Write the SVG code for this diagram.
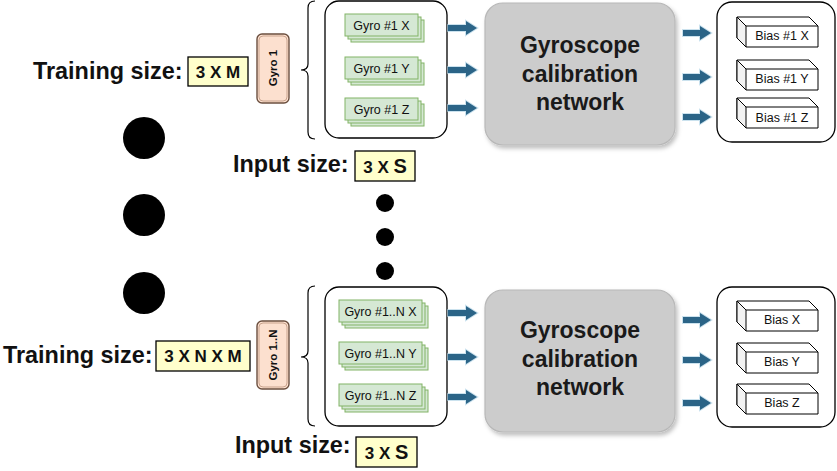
<svg xmlns="http://www.w3.org/2000/svg" width="837" height="471" viewBox="0 0 837 471">
<style>
text{font-family:"Liberation Sans",Arial,sans-serif;fill:#111}
.big{font-size:23.4px;font-weight:bold}
.dim{font-size:17px;font-weight:bold;text-anchor:middle}
.yel{fill:#FFFFCC;stroke:#000;stroke-width:1.3}
.gyro{fill:#FCE0CF;stroke:#6B4F3F;stroke-width:1.4}
.gyroin{fill:none;stroke:#C9A38D;stroke-width:1}
.gtxt{font-size:11.5px;font-weight:bold;text-anchor:middle}
.cont{fill:#fff;stroke:#000;stroke-width:1.3}
.brace{fill:none;stroke:#000;stroke-width:1.2}
.stk{fill:#D5E8D4;stroke:#82B366;stroke-width:1}
.stxt{font-size:12.5px;text-anchor:middle}
.net{fill:#CCCCCC;stroke:#B8B8B8;stroke-width:1.2}
.ntxt{font-size:23px;font-weight:bold;text-anchor:middle;fill:#1a1a1a}
.cube{fill:#fff;stroke:#000;stroke-width:1}
.side{fill:#F2F2F2;stroke:#000;stroke-width:1}
.btxt{font-size:12.5px;text-anchor:middle}
.arr{fill:#2B6487;stroke:#A8CFE3;stroke-width:2;stroke-opacity:0.6;paint-order:stroke}
.dot{fill:#000}
</style>
<defs>
<filter id="sh" x="-10%" y="-10%" width="125%" height="125%">
<feDropShadow dx="2" dy="3" stdDeviation="2" flood-color="#000" flood-opacity="0.25"/>
</filter>
</defs>

<g id="bigdots">
<circle class="dot" cx="144" cy="138" r="21"/>
<circle class="dot" cx="144" cy="215" r="21"/>
<circle class="dot" cx="144" cy="293" r="21"/>
</g>
<g id="smalldots">
<circle class="dot" cx="385" cy="203" r="9"/>
<circle class="dot" cx="385" cy="237" r="9"/>
<circle class="dot" cx="385" cy="271" r="9"/>
</g>

<g id="train1">
<text class="big" x="33" y="79">Training size:</text>
<rect class="yel" x="188" y="57" width="60" height="29"/>
<text class="dim" x="218" y="78">3 X M</text>
</g>
<g id="gyro1">
<rect class="gyro" x="257" y="34" width="32" height="69" rx="5"/>
<rect class="gyroin" x="259" y="36" width="28" height="65" rx="4"/>
<text class="gtxt" transform="translate(277,68) rotate(-90)" x="0" y="0">Gyro 1</text>
</g>
<g id="brace1">
<path class="brace" d="M315,1 Q308,1 308,8 V64 Q308,70 301,70 Q308,70 308,76 V132 Q308,139 315,139"/>
</g>
<g id="inputs1">
<rect class="cont" x="325" y="1" width="122" height="137" rx="14"/>
<g id="g1x">
<rect class="stk" x="351" y="20" width="73" height="22"/>
<rect class="stk" x="348" y="17" width="73" height="22"/>
<rect class="stk" x="345" y="14" width="73" height="22"/>
<text class="stxt" x="381.5" y="29.5">Gyro #1 X</text>
</g>
<g id="g1y">
<rect class="stk" x="351" y="63" width="73" height="22"/>
<rect class="stk" x="348" y="60" width="73" height="22"/>
<rect class="stk" x="345" y="57" width="73" height="22"/>
<text class="stxt" x="381.5" y="72.5">Gyro #1 Y</text>
</g>
<g id="g1z">
<rect class="stk" x="351" y="104" width="73" height="22"/>
<rect class="stk" x="348" y="101" width="73" height="22"/>
<rect class="stk" x="345" y="98" width="73" height="22"/>
<text class="stxt" x="381.5" y="113.5">Gyro #1 Z</text>
</g>
</g>
<g id="input1">
<text class="big" x="233" y="172">Input size:</text>
<rect class="yel" x="355" y="151" width="60" height="30"/>
<text class="dim" x="385" y="173">3 X <tspan font-size="20">S</tspan></text>
</g>
<g id="net1">
<rect class="net" filter="url(#sh)" x="485" y="3" width="190" height="142" rx="18"/>
<text class="ntxt" x="580" y="53">Gyroscope</text>
<text class="ntxt" x="580" y="82">calibration</text>
<text class="ntxt" x="580" y="110">network</text>
</g>
<g id="out1">
<rect class="cont" x="717" y="2" width="118" height="140" rx="15"/>
<g id="b1x">
<path class="cube" d="M737,17 H809 L818,26 V47 H746 L737,38 Z"/>
<path class="side" d="M737,17 L746,26 V47 L737,38 Z"/>
<path class="cube" d="M746,26 H818"/>
<text class="btxt" x="782" y="40">Bias #1 X</text>
</g>
<g id="b1y">
<path class="cube" d="M737,60 H809 L818,69 V90 H746 L737,81 Z"/>
<path class="side" d="M737,60 L746,69 V90 L737,81 Z"/>
<path class="cube" d="M746,69 H818"/>
<text class="btxt" x="782" y="83">Bias #1 Y</text>
</g>
<g id="b1z">
<path class="cube" d="M737,98 H809 L818,107 V128 H746 L737,119 Z"/>
<path class="side" d="M737,98 L746,107 V128 L737,119 Z"/>
<path class="cube" d="M746,107 H818"/>
<text class="btxt" x="782" y="122">Bias #1 Z</text>
</g>
</g>

<g id="trainN">
<text class="big" x="3" y="363">Training size:</text>
<rect class="yel" x="156" y="341" width="94" height="30"/>
<text class="dim" x="203" y="362">3 X N X M</text>
</g>
<g id="gyroN">
<rect class="gyro" x="257" y="321" width="32" height="68" rx="5"/>
<rect class="gyroin" x="259" y="323" width="28" height="64" rx="4"/>
<text class="gtxt" transform="translate(277,355) rotate(-90)" x="0" y="0">Gyro 1..N</text>
</g>
<g id="braceN">
<path class="brace" d="M315,286 Q308,286 308,293 V351 Q308,357 301,357 Q308,357 308,363 V419 Q308,426 315,426"/>
</g>
<g id="inputsN">
<rect class="cont" x="325" y="287" width="122" height="139" rx="14"/>
<g id="gNx">
<rect class="stk" x="345" y="306" width="83" height="22"/>
<rect class="stk" x="342" y="303" width="83" height="22"/>
<rect class="stk" x="339" y="300" width="83" height="22"/>
<text class="stxt" x="380.5" y="315.5">Gyro #1..N X</text>
</g>
<g id="gNy">
<rect class="stk" x="345" y="348" width="83" height="22"/>
<rect class="stk" x="342" y="345" width="83" height="22"/>
<rect class="stk" x="339" y="342" width="83" height="22"/>
<text class="stxt" x="380.5" y="357.5">Gyro #1..N Y</text>
</g>
<g id="gNz">
<rect class="stk" x="345" y="390" width="83" height="22"/>
<rect class="stk" x="342" y="387" width="83" height="22"/>
<rect class="stk" x="339" y="384" width="83" height="22"/>
<text class="stxt" x="380.5" y="399.5">Gyro #1..N Z</text>
</g>
</g>
<g id="inputN">
<text class="big" x="235" y="453">Input size:</text>
<rect class="yel" x="356" y="437" width="61" height="30"/>
<text class="dim" x="386.5" y="459">3 X <tspan font-size="20">S</tspan></text>
</g>
<g id="netN">
<rect class="net" filter="url(#sh)" x="485" y="290" width="190" height="142" rx="18"/>
<text class="ntxt" x="580" y="338">Gyroscope</text>
<text class="ntxt" x="580" y="367">calibration</text>
<text class="ntxt" x="580" y="395">network</text>
</g>
<g id="outN">
<rect class="cont" x="717" y="287" width="118" height="140" rx="15"/>
<g id="bNx">
<path class="cube" d="M737,301 H809 L818,310 V331 H746 L737,322 Z"/>
<path class="side" d="M737,301 L746,310 V331 L737,322 Z"/>
<path class="cube" d="M746,310 H818"/>
<text class="btxt" x="782" y="324">Bias X</text>
</g>
<g id="bNy">
<path class="cube" d="M737,343 H809 L818,352 V373 H746 L737,364 Z"/>
<path class="side" d="M737,343 L746,352 V373 L737,364 Z"/>
<path class="cube" d="M746,352 H818"/>
<text class="btxt" x="782" y="366">Bias Y</text>
</g>
<g id="bNz">
<path class="cube" d="M737,384 H809 L818,393 V414 H746 L737,405 Z"/>
<path class="side" d="M737,384 L746,393 V414 L737,405 Z"/>
<path class="cube" d="M746,393 H818"/>
<text class="btxt" x="782" y="407">Bias Z</text>
</g>
</g>

<g id="connectors">
<path class="arr" d="M448,25 H466 V21 L477,28 L466,35 V31 H448 Z"/>
<path class="arr" d="M448,67 H466 V63 L477,70 L466,77 V73 H448 Z"/>
<path class="arr" d="M448,105 H466 V101 L477,108 L466,115 V111 H448 Z"/>
<path class="arr" d="M683,30 H700 V26 L711,33 L700,40 V36 H683 Z"/>
<path class="arr" d="M683,74 H700 V70 L711,77 L700,84 V80 H683 Z"/>
<path class="arr" d="M683,114 H700 V110 L711,117 L700,124 V120 H683 Z"/>
<path class="arr" d="M448,310 H466 V306 L477,313 L466,320 V316 H448 Z"/>
<path class="arr" d="M448,354 H466 V350 L477,357 L466,364 V360 H448 Z"/>
<path class="arr" d="M448,394 H466 V390 L477,397 L466,404 V400 H448 Z"/>
<path class="arr" d="M683,317 H700 V313 L711,320 L700,327 V323 H683 Z"/>
<path class="arr" d="M683,357 H700 V353 L711,360 L700,367 V363 H683 Z"/>
<path class="arr" d="M683,400 H700 V396 L711,403 L700,410 V406 H683 Z"/>
</g>
</svg>
